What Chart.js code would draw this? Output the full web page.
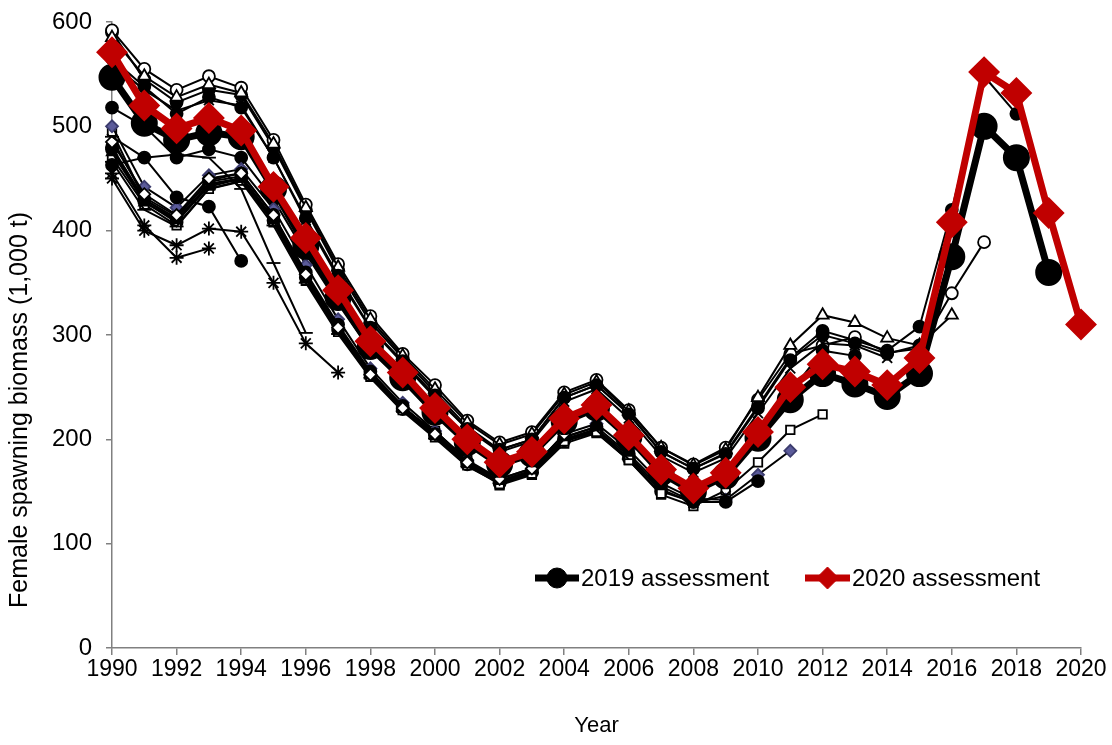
<!DOCTYPE html>
<html>
<head>
<meta charset="utf-8">
<script src="https://cdn.jsdelivr.net/npm/chart.js@4.4.1/dist/chart.umd.min.js"></script>
<style>
  html, body { margin: 0; padding: 0; background: #fff; }
  canvas { display: block; }
</style>
</head>
<body>
<canvas id="chart" width="1112" height="745"></canvas>
<script>
const years = [];
for (let y = 1990; y <= 2020; y++) years.push(y);

// Main assessments
const assess2020 = [571,520,498,508,496,442,393,343,294,264,230,200,178,188,220,233,204,171,153,168,207,250,272,265,252,278,408,552,532,417,310];
const assess2019 = [547,503,487,494,490,440,385,336,289,259,226,197,176,186,217,230,202,168,150,165,201,238,263,253,241,263,375,500,470,360];

// Earlier assessments (retrospective runs), values from 1990 to the end year
const a1993 = [455,405,374,383];
const a1994 = [463,470,432,423,371];
const a1996 = [490,470,473,470,440,369,302];
const a1997 = [450,400,386,402,399,350,292,264];
const a2004 = [485,435,415,450,455,415,358,307,262,230,205,178,162,172,205];
const a2005 = [475,427,410,442,450,410,354,304,261,229,203,176,160,170,202,212];
const a2006 = [466,420,404,440,447,405,350,301,259,227,201,174,158,168,200,209,181];
const a2007 = [470,425,405,440,448,408,352,303,260,228,202,175,157,167,198,207,180,148];
const a2008 = [478,428,408,444,450,410,355,305,262,229,204,176,158,168,199,208,182,150,140];
const a2009 = [488,432,414,447,452,412,357,308,263,231,206,177,159,169,200,210,184,152,139,146];
const a2010 = [480,430,412,448,455,415,360,310,265,232,205,178,160,170,202,212,186,155,140,140,160];
const a2011 = [500,442,422,453,459,421,367,315,268,235,208,180,162,172,205,215,190,158,143,142,166,189];
const a2012 = [495,430,410,445,450,410,355,305,262,230,208,180,156,166,196,206,180,147,136,151,178,209,224];
const a2013 = [518,500,470,478,470,430,378,330,285,255,224,195,174,184,215,228,200,167,152,167,205,245,285,280];
const a2014 = [560,535,515,525,520,470,410,355,306,273,240,210,188,198,236,248,220,184,168,182,225,268,292,290,278];
const a2015 = [565,538,512,528,518,470,412,357,307,275,242,210,190,200,240,252,224,188,172,186,230,276,300,292,282,290];
const a2016 = [585,548,528,540,532,483,422,365,315,280,248,216,195,205,243,255,227,192,175,190,240,290,319,312,297,290,319];
const a2017 = [592,555,535,548,537,487,425,368,318,282,252,218,197,207,245,257,228,192,176,192,238,282,290,298,283,287,340,389];
const a2018 = [590,545,523,535,530,480,420,362,312,278,245,212,190,200,240,252,225,188,172,187,232,278,304,295,285,308,420,548,512];

const red = '#c00000';
const fontName = "'Liberation Sans', Arial, sans-serif";

function toPoints(vals) {
  return vals.map((v, i) => ({x: years[i], y: v}));
}

// thin black line for one retrospective run
function retro(label, vals, style, fill, radius) {
  return {
    label: label,
    data: toPoints(vals),
    borderColor: '#000',
    borderWidth: 2,
    pointStyle: style,
    pointRadius: radius || 6,
    pointBackgroundColor: fill,
    pointBorderColor: fill === '#5b5b9a' ? '#3c3c6e' : '#000',
    pointBorderWidth: 1.8,
    clip: false,
    order: 5
  };
}

const datasets = [
  {
    label: '2020 assessment',
    data: toPoints(assess2020),
    borderColor: red,
    borderWidth: 7,
    pointStyle: 'rectRot',
    pointRadius: 11,
    pointBackgroundColor: red,
    pointBorderColor: red,
    clip: false,
    order: 0
  },
  {
    label: '2019 assessment',
    data: toPoints(assess2019),
    borderColor: '#000',
    borderWidth: 7,
    pointStyle: 'circle',
    pointRadius: 10,
    pointBackgroundColor: '#000',
    pointBorderColor: '#000',
    clip: false,
    order: 1
  },
  retro('1993', a1993, 'star', '#000', 7),
  retro('1994', a1994, 'circle', '#000'),
  retro('1996', a1996, 'line', '#000', 7),
  retro('1997', a1997, 'star', '#000', 7),
  retro('2004', a2004, 'rectRot', '#fff'),
  retro('2005', a2005, 'triangle', '#000'),
  retro('2006', a2006, 'line', '#000', 7),
  retro('2007', a2007, 'rect', '#fff'),
  retro('2008', a2008, 'circle', '#000'),
  retro('2009', a2009, 'crossRot', '#000', 7),
  retro('2010', a2010, 'circle', '#000'),
  retro('2011', a2011, 'rectRot', '#5b5b9a'),
  retro('2012', a2012, 'rect', '#fff'),
  retro('2013', a2013, 'circle', '#000'),
  retro('2014', a2014, 'crossRot', '#000', 7),
  retro('2015', a2015, 'circle', '#000'),
  retro('2016', a2016, 'triangle', '#fff', 7),
  retro('2017', a2017, 'circle', '#fff'),
  retro('2018', a2018, 'circle', '#000')
];

// Legend inside the plot for the two latest assessments, plus the y title
const extras = {
  id: 'extras',
  afterDraw(chart) {
    const ctx = chart.ctx;
    const y = 578;
    const items = [
      {ds: chart.data.datasets[1], x0: 535, x1: 579},
      {ds: chart.data.datasets[0], x0: 805, x1: 850}
    ];
    ctx.save();
    items.forEach(it => {
      ctx.strokeStyle = it.ds.borderColor;
      ctx.lineWidth = it.ds.borderWidth;
      ctx.beginPath();
      ctx.moveTo(it.x0, y);
      ctx.lineTo(it.x1, y);
      ctx.stroke();
      ctx.fillStyle = it.ds.pointBackgroundColor;
      ctx.strokeStyle = it.ds.pointBorderColor;
      ctx.lineWidth = 1;
      Chart.helpers.drawPoint(ctx, {pointStyle: it.ds.pointStyle, radius: it.ds.pointRadius, borderWidth: 1}, (it.x0 + it.x1) / 2, y);
      ctx.fillStyle = '#000';
      ctx.font = '24px ' + fontName;
      ctx.textBaseline = 'middle';
      ctx.textAlign = 'left';
      ctx.fillText(it.ds.label, it.x1 + 2, y + 1);
    });

    // y axis title sits a bit below the middle of the axis in the original
    ctx.translate(20, 410);
    ctx.rotate(-Math.PI / 2);
    ctx.font = '25px ' + fontName;
    ctx.textAlign = 'center';
    ctx.fillText('Female spawning biomass (1,000 t)', 0, 0);
    ctx.restore();
  }
};

new Chart(document.getElementById('chart').getContext('2d'), {
  type: 'line',
  data: {datasets: datasets},
  options: {
    responsive: false,
    animation: false,
    devicePixelRatio: 1,
    layout: {padding: {left: 0, right: 31, top: 22, bottom: 0}},
    plugins: {
      legend: {display: false},
      tooltip: {enabled: false}
    },
    scales: {
      x: {
        type: 'linear',
        min: 1990,
        max: 2020,
        afterFit: s => { s.height = 97; },
        border: {color: '#808080', width: 1.5},
        grid: {drawOnChartArea: false, drawTicks: true, tickLength: 7, color: '#808080', lineWidth: 1.5},
        ticks: {
          stepSize: 2,
          padding: 1,
          color: '#000',
          font: {family: fontName, size: 23},
          maxRotation: 0,
          autoSkip: false,
          callback: v => String(v)
        },
        title: {
          display: true,
          text: 'Year',
          color: '#000',
          font: {family: fontName, size: 22},
          padding: {top: 0, bottom: 6}
        }
      },
      y: {
        min: 0,
        max: 600,
        afterFit: s => { s.width = 112; s.paddingTop = 0; s.paddingBottom = 0; },
        border: {color: '#808080', width: 1.5},
        grid: {drawOnChartArea: false, drawTicks: true, tickLength: 6, color: '#808080', lineWidth: 1.5},
        ticks: {
          stepSize: 100,
          padding: 14,
          color: '#000',
          font: {family: fontName, size: 24}
        }
      }
    }
  },
  plugins: [extras]
});
</script>
</body>
</html>
